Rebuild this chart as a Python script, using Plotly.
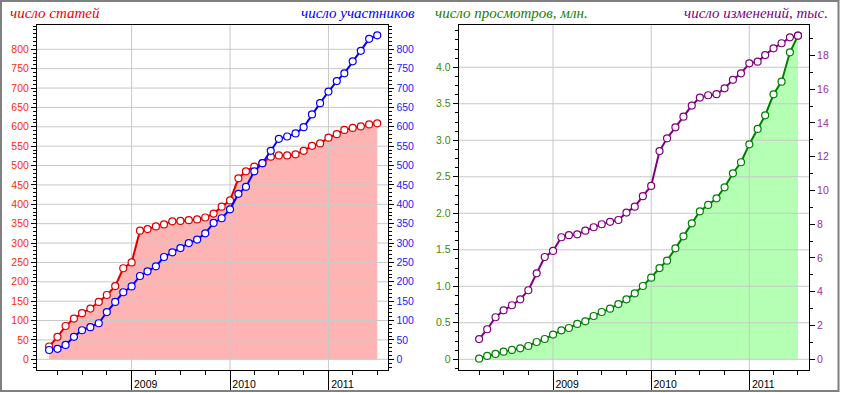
import plotly.graph_objects as go
import pandas as pd

# ---------------- data ----------------
months_left = [d.strftime("%Y-%m-%d") for d in pd.date_range("2008-03-01", "2011-07-01", freq="MS")]
months_right = [d.strftime("%Y-%m-%d") for d in pd.date_range("2008-04-01", "2011-07-01", freq="MS")]

articles = [33, 58, 86, 105, 119, 131, 148, 166, 189, 235, 250, 332, 336, 343, 348, 356,
            357, 359, 361, 366, 376, 394, 410, 467, 485, 497, 506, 523, 526, 526, 529, 538,
            551, 557, 572, 581, 592, 597, 601, 606, 609]
participants = [24, 27, 37, 58, 75, 83, 93, 122, 148, 173, 188, 215, 227, 240, 264, 276,
                287, 300, 309, 325, 352, 364, 387, 427, 445, 485, 506, 538, 569, 575, 583, 599,
                632, 661, 691, 718, 738, 769, 796, 827, 836]
views_mln = [0.009, 0.046, 0.073, 0.105, 0.128, 0.15, 0.182, 0.237, 0.278, 0.338, 0.397, 0.429,
             0.484, 0.52, 0.593, 0.648, 0.693, 0.757, 0.821, 0.903, 1.004, 1.118, 1.25, 1.351,
             1.52, 1.684, 1.863, 2.027, 2.114, 2.205, 2.356, 2.548, 2.699, 2.945, 3.155, 3.342,
             3.63, 3.803, 4.205, 4.433]
edits_k = [1.2, 1.78, 2.49, 2.9, 3.2, 3.55, 4.09, 5.09, 6.06, 6.42, 7.23, 7.35, 7.4, 7.62, 7.82,
           8.0, 8.14, 8.25, 8.69, 9.04, 9.66, 10.27, 12.33, 13.09, 13.74, 14.37, 15.03, 15.5,
           15.64, 15.7, 16.05, 16.55, 16.94, 17.53, 17.63, 18.02, 18.42, 18.72, 19.07, 19.17]

year_ticks = ["2009-01-01", "2010-01-01", "2011-01-01"]
year_labels = ["2009", "2010", "2011"]
left_ticks = list(range(0, 801, 50))
views_ticks = [0, 0.5, 1.0, 1.5, 2.0, 2.5, 3.0, 3.5, 4.0]
views_labels = ["0", "0.5", "1.0", "1.5", "2.0", "2.5", "3.0", "3.5", "4.0"]
edits_ticks = list(range(0, 19, 2))

title_articles = "число статей"
title_participants = "число участников"
title_views = "число просмотров, млн."
title_edits = "число изменений, тыс."

# ---------------- layout helpers ----------------
W, H = 843, 393
ML, MR, MT, MB = 37, 34, 25, 23
PW, PH = W - ML - MR, H - MT - MB


def px_x(p):
    return (p - ML) / PW


def px_y(p):
    return (H - MB - p) / PH


X_RANGE = ["2008-01-16", "2011-08-11"]
Y1_RANGE = [-27.6, 862.7]
Y3_RANGE = [-0.1466, 4.579]
Y4_RANGE = [-0.634, 19.80]

RED, BLUE, GREEN, PURPLE = "#dd0000", "#0000ff", "#008000", "#800080"
GRID = "#c8c8c8"
TICKFONT = dict(family="Arial", size=10.5)


def grid_trace(yvals, yrange, xa, ya):
    xs, ys = [], []
    for v in yvals:
        xs += [X_RANGE[0], X_RANGE[1], None]
        ys += [v, v, None]
    for t in year_ticks:
        xs += [t, t, None]
        ys += [yrange[0], yrange[1], None]
    return go.Scatter(x=xs, y=ys, mode="lines", line=dict(color=GRID, width=1),
                      xaxis=xa, yaxis=ya, hoverinfo="skip", showlegend=False)


def series(x, y, color, xa, ya):
    return go.Scatter(x=x, y=y, mode="lines+markers", xaxis=xa, yaxis=ya,
                      line=dict(color=color, width=2),
                      marker=dict(symbol="circle", size=7, color="white",
                                  line=dict(color=color, width=1.2)),
                      showlegend=False)


fig = go.Figure()
# left panel
fig.add_trace(go.Scatter(x=months_left, y=articles, mode="none", fill="tozeroy",
                         fillcolor="#ffb4b4", xaxis="x", yaxis="y", hoverinfo="skip",
                         showlegend=False))
fig.add_trace(grid_trace(left_ticks, Y1_RANGE, "x", "y"))
fig.add_trace(series(months_left, articles, RED, "x", "y"))
fig.add_trace(series(months_left, participants, BLUE, "x", "y2"))
# right panel
fig.add_trace(go.Scatter(x=months_right, y=views_mln, mode="none", fill="tozeroy",
                         fillcolor="#b4ffb4", xaxis="x2", yaxis="y3", hoverinfo="skip",
                         showlegend=False))
fig.add_trace(grid_trace(views_ticks, Y3_RANGE, "x2", "y3"))
fig.add_trace(series(months_right, views_mln, GREEN, "x2", "y3"))
fig.add_trace(series(months_right, edits_k, PURPLE, "x2", "y4"))


def xaxis_cfg(domain, anchor):
    return dict(domain=domain, anchor=anchor, type="date", range=X_RANGE,
                tickmode="array", tickvals=year_ticks, ticktext=year_labels,
                ticks="outside", ticklen=21, tickcolor="black", tickwidth=1,
                ticklabelshift=14, ticklabelstandoff=-17, automargin=False,
                tickfont=dict(color="black", **TICKFONT),
                showgrid=False, zeroline=False, showline=True, mirror=True,
                linecolor="black", linewidth=1,
                minor=dict(ticks="outside", ticklen=4, dtick="M3", tick0="2008-01-01",
                           tickcolor="black", showgrid=False))


def yaxis_cfg(rng, tickvals, ticktext, color, minor_dtick, side="left", overlaying=None, anchor="x"):
    d = dict(range=rng, tickmode="array", tickvals=tickvals, ticktext=ticktext,
             ticks="outside", ticklen=5, tickcolor="black", tickwidth=1, automargin=False,
             tickfont=dict(color=color, **TICKFONT), side=side, anchor=anchor,
             showgrid=False, zeroline=False, showline=True, linecolor="black", linewidth=1,
             minor=dict(ticks="outside", ticklen=3, dtick=minor_dtick, tick0=0,
                        tickcolor="black", showgrid=False))
    if overlaying:
        d["overlaying"] = overlaying
    return d


fig.update_layout(
    width=W, height=H, margin=dict(l=ML, r=MR, t=MT, b=MB, autoexpand=False),
    paper_bgcolor="white", plot_bgcolor="white", showlegend=False,
    xaxis=xaxis_cfg([0, px_x(388.3)], "y"),
    xaxis2=xaxis_cfg([px_x(458.7), 1], "y3"),
    yaxis=yaxis_cfg(Y1_RANGE, left_ticks, [str(v) for v in left_ticks], "#ff2a00", 10, anchor="x"),
    yaxis2=yaxis_cfg(Y1_RANGE, left_ticks, [str(v) for v in left_ticks], "#1a1aff", 10,
                     side="right", overlaying="y", anchor="x"),
    yaxis3=yaxis_cfg(Y3_RANGE, views_ticks, views_labels, "#3a8c00", 0.125, anchor="x2"),
    yaxis4=yaxis_cfg(Y4_RANGE, edits_ticks, [str(v) for v in edits_ticks], "#9b2d9b", 1,
                     side="right", overlaying="y3", anchor="x2"),
)

TFONT = dict(family="Liberation Serif", size=15, style="italic")
ann = [
    (title_articles, 8, "left", "#ee0000"),
    (title_participants, 417, "right", "#0000ff"),
    (title_views, 433, "left", "#1a8000"),
    (title_edits, 830, "right", "#800080"),
]
for text, xp, anc, col in ann:
    fig.add_annotation(text=text, xref="paper", yref="paper", x=px_x(xp), y=px_y(13),
                       xanchor=anc, yanchor="middle", showarrow=False,
                       font=dict(color=col, **TFONT))

fig.add_shape(type="rect", xref="paper", yref="paper",
              x0=px_x(1), x1=px_x(838.5), y0=px_y(391), y1=px_y(1),
              line=dict(color="#808080", width=2), layer="above")

fig.write_html("out.html", config={"displayModeBar": False},
               post_script="document.body.style.margin='0';document.body.style.padding='0';")
